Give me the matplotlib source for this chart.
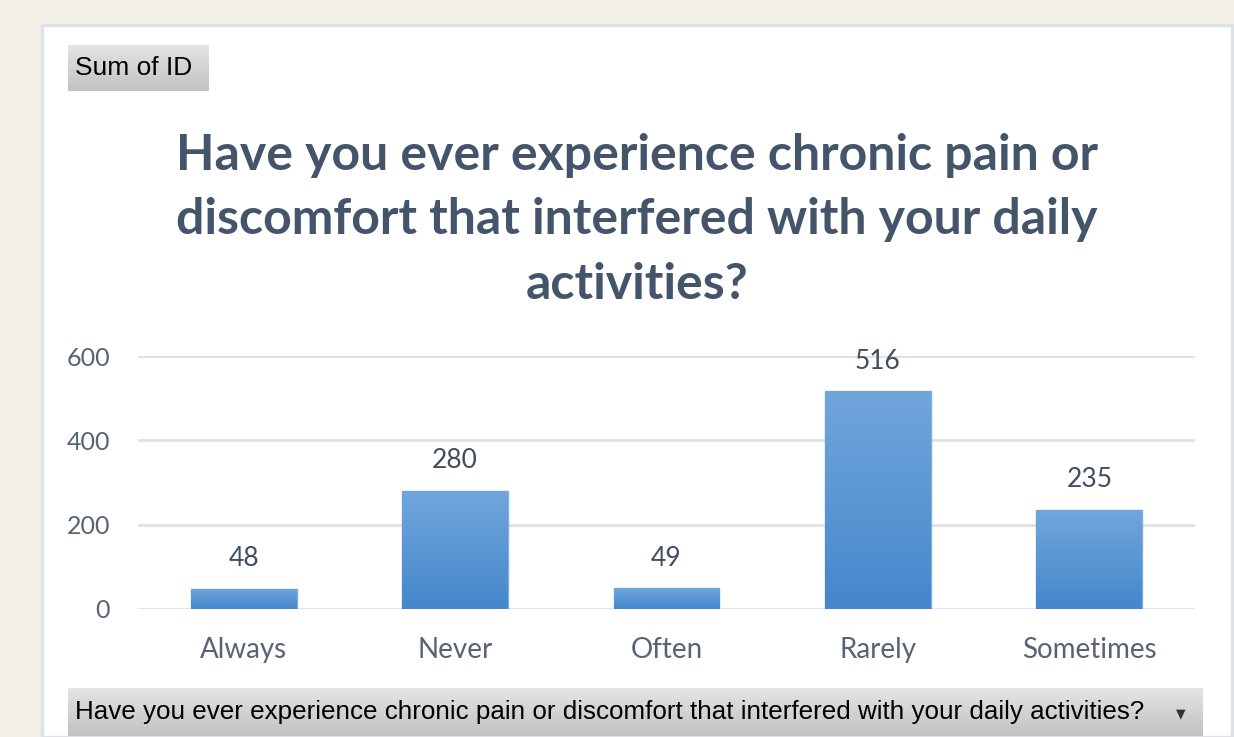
import numpy as np
import matplotlib.pyplot as plt
from matplotlib.patches import Rectangle
from matplotlib.colors import LinearSegmentedColormap

categories = ["Always", "Never", "Often", "Rarely", "Sometimes"]
values = [48, 280, 49, 516, 235]
yticks = [0, 200, 400, 600]
title = "Have you ever experience chronic pain or\ndiscomfort that interfered with your daily\nactivities?"
field_label = "Sum of ID"
filter_label = "Have you ever experience chronic pain or discomfort that interfered with your daily activities?"

W, H = 1234, 737
fig = plt.figure(figsize=(W / 100, H / 100), dpi=100)
fig.patch.set_facecolor("#f3f0e9")


def px(x0, y0, x1, y1):
    # pixel box (top-left origin) -> figure fraction rect
    return [x0 / W, 1 - y1 / H, (x1 - x0) / W, (y1 - y0) / H]


# white chart panel
fig.patches.append(Rectangle((42 / W, 0), (1232 - 42) / W, 1 - 25 / H,
                             transform=fig.transFigure, facecolor="white",
                             edgecolor="#dfe3e8", linewidth=2.5, zorder=-5))


def button(box, text, size, arrow=False):
    bax = fig.add_axes(px(*box))
    grad = np.linspace(0, 1, 64).reshape(-1, 1)
    bax.imshow(grad, cmap=LinearSegmentedColormap.from_list("b", ["#e4e4e4", "#c2c2c2"]),
               aspect="auto", extent=[0, 1, 0, 1], origin="upper")
    bax.set_xlim(0, 1)
    bax.set_ylim(0, 1)
    bax.axis("off")
    bax.text(7 / (box[2] - box[0]), 0.5, text, ha="left", va="center",
             fontsize=size, family="Liberation Sans", color="black")
    if arrow:
        bax.text(1 - 22 / (box[2] - box[0]), 0.47, "\u25bc", ha="center", va="center",
                 fontsize=9, family="DejaVu Sans", color="#333333")


button((68, 45, 209, 91), field_label, 19)
button((68, 688, 1203, 736), filter_label, 18.7, arrow=True)

fig.text(637 / W, 1 - 220 / H, title, ha="center", va="center", fontsize=36,
         fontweight="bold", family="Lato", color="#44546a", linespacing=1.54)

ax = fig.add_axes(px(138, 356, 1195, 609))
x = np.arange(len(categories))
bars = ax.bar(x, values, width=0.5, color="#5b9bd5", edgecolor="#7fb0e0", linewidth=1, zorder=2)

cmap = LinearSegmentedColormap.from_list("g", ["#4587cb", "#71a6dc"])
grad = np.linspace(0, 1, 128).reshape(-1, 1)
for b in bars:
    im = ax.imshow(grad, cmap=cmap, aspect="auto", origin="lower",
                   extent=[b.get_x(), b.get_x() + b.get_width(), 0, b.get_height()], zorder=3)
    im.set_clip_path(b)

for xi, v in zip(x, values):
    ax.text(xi, v + 42, str(v), ha="center", va="bottom", fontsize=19,
            family="Lato", color="#404d5e")

ax.set_xlim(-0.5, len(categories) - 0.5)
ax.set_ylim(0, 600)
ax.set_yticks(yticks)
ax.set_xticks(x)
ax.set_xticklabels(categories)
ax.grid(axis="y", color="#dde1e7", linewidth=2, zorder=0)
ax.set_axisbelow(True)
for s in ax.spines.values():
    s.set_visible(False)
ax.tick_params(axis="x", length=0, labelsize=20, labelcolor="#586374", pad=20)
ax.tick_params(axis="y", length=0, labelsize=18, labelcolor="#586374", pad=20)
for lab in ax.get_xticklabels() + ax.get_yticklabels():
    lab.set_family("Lato")
ax.set_facecolor("none")

fig.savefig("out.png", dpi=100, facecolor=fig.get_facecolor())
